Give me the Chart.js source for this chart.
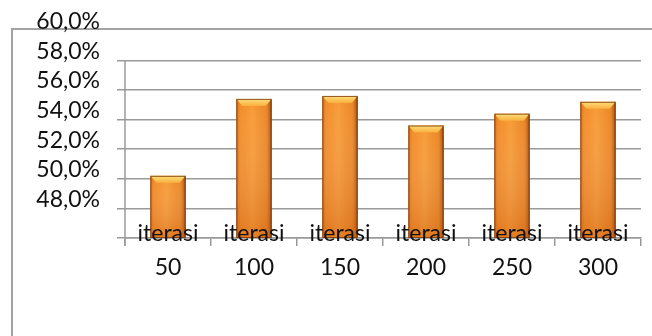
<!DOCTYPE html>
<html>
<head>
<meta charset="utf-8">
<script src="https://cdn.jsdelivr.net/npm/chart.js@4/dist/chart.umd.min.js"></script>
<style>
  html, body { margin: 0; padding: 0; background: #fff; }
  #wrap { position: relative; width: 652px; height: 336px; overflow: hidden; }
  /* chart object frame, runs off the right and bottom edge */
  #frame { position: absolute; left: 11px; top: 28px; width: 700px; height: 400px;
           border-top: 2px solid #a3a3a3; border-left: 2px solid #a3a3a3; }
  #c { position: absolute; left: 0; top: 0; }
</style>
</head>
<body>
<div id="wrap">
  <div id="frame"></div>
  <canvas id="c" width="652" height="336"></canvas>
</div>
<script>
"use strict";

var categories = [["iterasi", "50"], ["iterasi", "100"], ["iterasi", "150"],
                  ["iterasi", "200"], ["iterasi", "250"], ["iterasi", "300"]];
var akurasi = [50.2, 55.4, 55.6, 53.6, 54.4, 55.2];
var yMin = 46, yMax = 60, yStep = 2;

var FONT = "Lato, 'Open Sans', sans-serif";

// bevel shading on top of the flat bar colour
var bevel = {
  id: "bevel",
  afterDatasetsDraw: function(chart) {
    var ctx = chart.ctx;
    var bottom = chart.chartArea.bottom;
    chart.getDatasetMeta(0).data.forEach(function(bar) {
      var l = bar.x - bar.width / 2, r = bar.x + bar.width / 2;
      var t = bar.y, b = Math.min(bar.base, bottom), w = bar.width;
      ctx.save();
      var g = ctx.createLinearGradient(l, 0, r, 0);
      g.addColorStop(0, "rgba(170,80,10,0.55)");
      g.addColorStop(0.12, "rgba(230,120,30,0.15)");
      g.addColorStop(0.45, "rgba(255,190,90,0.25)");
      g.addColorStop(0.85, "rgba(200,95,15,0.2)");
      g.addColorStop(1, "rgba(110,45,5,0.75)");
      ctx.fillStyle = g;
      ctx.fillRect(l, t, w, b - t);
      var v = ctx.createLinearGradient(0, t, 0, b);
      v.addColorStop(0, "rgba(255,255,255,0)");
      v.addColorStop(1, "rgba(190,80,10,0.35)");
      ctx.fillStyle = v;
      ctx.fillRect(l, t, w, b - t);
      // top facet
      var h = 7;
      var tg = ctx.createLinearGradient(0, t, 0, t + h);
      tg.addColorStop(0, "#ffe07a");
      tg.addColorStop(1, "#f8b040");
      ctx.fillStyle = tg;
      ctx.beginPath();
      ctx.moveTo(l, t);
      ctx.lineTo(r, t);
      ctx.lineTo(r - 6, t + h);
      ctx.lineTo(l + 6, t + h);
      ctx.closePath();
      ctx.fill();
      ctx.strokeStyle = "rgba(120,50,5,0.8)";
      ctx.lineWidth = 1;
      ctx.strokeRect(l + 0.5, t + 0.5, w - 1, b - t - 1);
      ctx.restore();
    });
  }
};

// y axis line only runs over the visible grid (up to 58%),
// category labels sit across the axis line, over the bars
var axisExtras = {
  id: "axisExtras",
  afterDraw: function(chart) {
    var y = chart.scales.y, x = chart.scales.x, ctx = chart.ctx;
    ctx.save();
    ctx.strokeStyle = "#9a9a9a";
    ctx.lineWidth = 1.5;
    ctx.beginPath();
    ctx.moveTo(y.right, y.getPixelForValue(yMax - yStep));
    ctx.lineTo(y.right, y.getPixelForValue(yMin) + 8);
    ctx.stroke();

    ctx.fillStyle = "#111";
    ctx.font = "23px " + FONT;
    ctx.textAlign = "center";
    ctx.textBaseline = "middle";
    categories.forEach(function(lines, i) {
      var px = x.getPixelForValue(i);
      lines.forEach(function(s, j) {
        ctx.fillText(s, px, x.top - 4 + j * 34);
      });
    });
    ctx.restore();
  }
};

new Chart(document.getElementById("c"), {
  type: "bar",
  data: {
    labels: categories,
    datasets: [{
      data: akurasi,
      backgroundColor: "#f5902a",
      borderWidth: 0,
      categoryPercentage: 1,
      barPercentage: 0.41
    }]
  },
  options: {
    responsive: false,
    animation: false,
    layout: { padding: { top: 28, right: 11, bottom: 0, left: 0 } },
    plugins: { legend: { display: false }, tooltip: { enabled: false } },
    scales: {
      x: {
        grid: { display: true, drawOnChartArea: false, color: "#9a9a9a", lineWidth: 1.5, tickLength: 8, offset: true },
        border: { display: true, color: "#9a9a9a", width: 1.5 },
        ticks: { display: false },
        afterFit: function(s) { s.height = 98; }
      },
      y: {
        min: yMin, max: yMax,
        grid: {
          color: function(c) { return c.tick && c.tick.value >= yMax ? "rgba(0,0,0,0)" : "#9a9a9a"; },
          lineWidth: 1.5, tickLength: 8
        },
        border: { display: false },
        ticks: {
          stepSize: yStep, autoSkip: false, color: "#111", padding: 17, labelOffset: -9,
          font: { family: FONT, size: 23 },
          callback: function(v) { return v <= yMin ? "" : v.toFixed(1).replace(".", ",") + "%"; }
        },
        afterFit: function(s) { s.width = 125; }
      }
    }
  },
  plugins: [bevel, axisExtras]
});
</script>
</body>
</html>
